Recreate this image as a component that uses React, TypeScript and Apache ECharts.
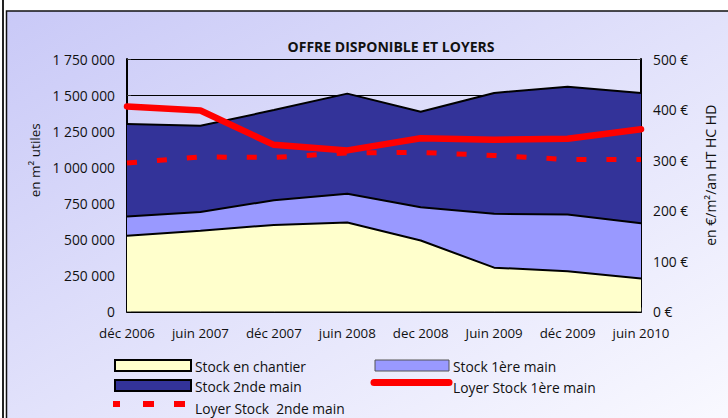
import React, { useEffect, useRef } from "react";
import * as echarts from "echarts";

const categories = ["déc 2006", "juin 2007", "déc 2007", "juin 2008", "dec 2008", "Juin 2009", "déc 2009", "juin 2010"];
const stockChantier = [525000, 560000, 600000, 617000, 492000, 304000, 279000, 228000];
const stockPremiere = [133000, 130000, 171000, 199000, 231000, 373000, 393000, 384000];
const stockSeconde = [642000, 597000, 625000, 694000, 662000, 838000, 885000, 903000];
const loyerPremiere = [406, 398, 330, 319, 343, 340, 342, 361];
const loyerSeconde = [294, 306, 305, 314, 315, 309, 301, 301];

const FONT = "Open Sans";

function fmt(v: number) {
  return String(v).replace(/\B(?=(\d{3})+(?!\d))/g, " ");
}

export default function App() {
  const ref = useRef<HTMLDivElement>(null);
  useEffect(() => {
    if (!ref.current) return;
    const chart = echarts.init(ref.current, undefined, { renderer: "svg" });
    const txt = (x: number, y: number, s: string) => ({
      type: "text",
      x,
      y,
      z: 20,
      style: { text: s, fontFamily: FONT, fontSize: 13.8, fill: "#111", verticalAlign: "middle", textAlign: "left" },
    });
    chart.setOption({
      animation: false,
      textStyle: { fontFamily: FONT },
      title: {
        text: "OFFRE DISPONIBLE ET LOYERS",
        left: 386,
        textAlign: "center",
        top: 34,
        textStyle: { fontFamily: FONT, fontSize: 14, fontWeight: "bold", color: "#111" },
      },
      grid: { left: 127, right: 87, top: 59, bottom: 106.5, containLabel: false },
      graphic: [
        { type: "rect", z: -10, shape: { x: 2, y: 0, width: 2, height: 418 }, style: { fill: "#222" } },
        {
          type: "rect",
          z: -10,
          shape: { x: 6.5, y: 11, width: 740, height: 420 },
          style: {
            fill: new echarts.graphic.LinearGradient(0, 0, 1, 1, [
              { offset: 0, color: "#c9c9f7" },
              { offset: 0.5, color: "#e2e2fb" },
              { offset: 1, color: "#fafaff" },
            ]),
            stroke: "#111",
            lineWidth: 1.5,
          },
        },
        // legend
        { type: "rect", z: 20, shape: { x: 115, y: 360, width: 76, height: 11 }, style: { fill: "#ffffcc", stroke: "#000", lineWidth: 2 } },
        txt(195, 366, "Stock en chantier"),
        { type: "rect", z: 20, shape: { x: 375, y: 360, width: 74, height: 11 }, style: { fill: "#9999ff", stroke: "#555", lineWidth: 1 } },
        txt(453, 366, "Stock 1ère main"),
        { type: "rect", z: 20, shape: { x: 115, y: 380, width: 76, height: 11 }, style: { fill: "#333399", stroke: "#000", lineWidth: 2 } },
        txt(195, 386, "Stock 2nde main"),
        { type: "line", z: 20, shape: { x1: 374, y1: 382.5, x2: 449, y2: 382.5 }, style: { stroke: "#ff0000", lineWidth: 7, lineCap: "round" } },
        txt(453, 387, "Loyer Stock 1ère main"),
        { type: "rect", z: 20, shape: { x: 113, y: 401, width: 7, height: 6 }, style: { fill: "#ff0000" } },
        { type: "rect", z: 20, shape: { x: 143, y: 401, width: 11, height: 6 }, style: { fill: "#ff0000" } },
        { type: "rect", z: 20, shape: { x: 174, y: 401, width: 11, height: 6 }, style: { fill: "#ff0000" } },
        txt(195, 408, "Loyer Stock  2nde main"),
      ],
      xAxis: {
        type: "category",
        data: categories,
        boundaryGap: false,
        axisLine: { lineStyle: { color: "#000", width: 2 } },
        axisTick: { inside: true, length: 4, lineStyle: { color: "#333" } },
        axisLabel: { color: "#111", fontSize: 13.3, fontFamily: FONT, margin: 15, interval: 0 },
        splitLine: { show: false },
      },
      yAxis: [
        {
          type: "value",
          min: 0,
          max: 1750000,
          interval: 250000,
          name: "en m² utiles",
          nameLocation: "middle",
          nameGap: 73,
          nameRotate: 90,
          nameTextStyle: { color: "#111", fontSize: 13.5, fontFamily: FONT, padding: [0, 0, 0, 50] },
          axisLine: { show: true, lineStyle: { color: "#000", width: 2 } },
          axisTick: { show: true, inside: true, length: 4, lineStyle: { color: "#333" } },
          axisLabel: { color: "#111", fontSize: 13.8, fontFamily: FONT, margin: 12, formatter: (v: number) => fmt(v) },
          splitLine: { show: true, lineStyle: { color: "#000", width: 1 } },
        },
        {
          type: "value",
          min: 0,
          max: 500,
          interval: 100,
          position: "right",
          name: "en €/m²/an HT HC HD",
          nameLocation: "middle",
          nameGap: 62,
          nameRotate: 90,
          nameTextStyle: { color: "#111", fontSize: 14, fontFamily: FONT, padding: [0, 0, 0, 20] },
          axisLine: { show: true, lineStyle: { color: "#000", width: 2 } },
          axisTick: { show: true, inside: true, length: 4, lineStyle: { color: "#333" } },
          axisLabel: { color: "#111", fontSize: 13.8, fontFamily: FONT, margin: 12, formatter: "{value} €" },
          splitLine: { show: false },
        },
      ],
      series: [
        {
          name: "Stock en chantier",
          type: "line",
          stack: "m",
          data: stockChantier,
          symbol: "none",
          lineStyle: { color: "#000", width: 2 },
          areaStyle: { color: "#ffffcc", opacity: 1 },
          z: 2,
        },
        {
          name: "Stock 1ère main",
          type: "line",
          stack: "m",
          data: stockPremiere,
          symbol: "none",
          lineStyle: { color: "#000", width: 2 },
          areaStyle: { color: "#9999ff", opacity: 1 },
          z: 2,
        },
        {
          name: "Stock 2nde main",
          type: "line",
          stack: "m",
          data: stockSeconde,
          symbol: "none",
          lineStyle: { color: "#000", width: 2 },
          areaStyle: { color: "#333399", opacity: 1 },
          z: 2,
        },
        {
          name: "Loyer Stock 1ère main",
          type: "line",
          yAxisIndex: 1,
          data: loyerPremiere,
          symbol: "none",
          lineStyle: { color: "#ff0000", width: 6.5, cap: "round", join: "round" },
          z: 5,
        },
        {
          name: "Loyer Stock  2nde main",
          type: "line",
          yAxisIndex: 1,
          data: loyerSeconde,
          symbol: "none",
          lineStyle: { color: "#ff0000", width: 5, type: [10, 20] },
          z: 5,
        },
      ],
    });
    return () => chart.dispose();
  }, []);
  return <div ref={ref} style={{ position: "absolute", left: 0, top: 0, width: 728, height: 418 }} />;
}
